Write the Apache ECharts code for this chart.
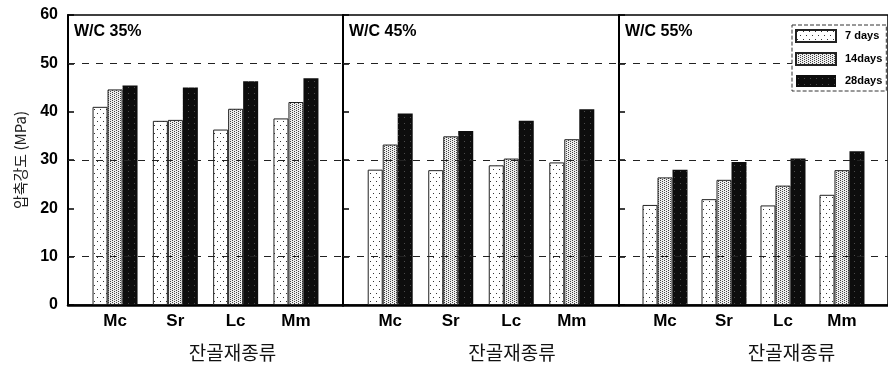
<!DOCTYPE html>
<html>
<head>
<meta charset="utf-8">
<script src="https://cdn.jsdelivr.net/npm/echarts@6/dist/echarts.min.js"></script>
<style>
html,body{margin:0;padding:0;background:#fff;}
#chart{width:888px;height:369px;}
</style>
</head>
<body>
<div id="chart"></div>
<script>
// ---- data ----
const categories = ['Mc', 'Sr', 'Lc', 'Mm'];
const panelTitles = ['W/C 35%', 'W/C 45%', 'W/C 55%'];
const seriesNames = ['7 days', '14days', '28days'];
const wc35_7d  = [41.0, 38.1, 36.3, 38.6];
const wc35_14d = [44.6, 38.3, 40.6, 42.0];
const wc35_28d = [45.4, 45.0, 46.3, 46.9];
const wc45_7d  = [28.0, 27.9, 28.9, 29.5];
const wc45_14d = [33.2, 34.9, 30.3, 34.3];
const wc45_28d = [39.6, 36.0, 38.1, 40.5];
const wc55_7d  = [20.7, 21.9, 20.6, 22.8];
const wc55_14d = [26.4, 25.9, 24.7, 27.9];
const wc55_28d = [28.0, 29.6, 30.3, 31.8];
const yMin = 0, yMax = 60, yStep = 10;
const dashedLevels = [10, 30, 50];
const yAxisName = '압축강도 (MPa)';
const xAxisName = '잔골재종류';

const panelData = [
  [wc35_7d, wc35_14d, wc35_28d],
  [wc45_7d, wc45_14d, wc45_28d],
  [wc55_7d, wc55_14d, wc55_28d]
];

// ---- patterns ----
function makePattern(w, h, bg, dotColor, dots) {
  const c = document.createElement('canvas');
  c.width = w; c.height = h;
  const ctx = c.getContext('2d');
  ctx.fillStyle = bg; ctx.fillRect(0, 0, w, h);
  ctx.fillStyle = dotColor;
  dots.forEach(d => ctx.fillRect(d[0], d[1], 1, 1));
  return { image: c, repeat: 'repeat' };
}
const fills = [
  makePattern(6, 8, '#ffffff', '#333333', [[1, 1], [4, 5]]),
  makePattern(4, 4, '#eeeeee', '#444444', [[0, 0], [2, 1], [0, 2], [2, 3]]),
  makePattern(6, 6, '#0d0d0d', '#4a4a4a', [[2, 3]])
];
const borders = [['#222', 1], ['#222', 1], ['#000', 0]];

const LATIN = '"Liberation Sans", Arial, sans-serif';
const KOR = '"Noto Sans CJK KR", "Noto Sans", sans-serif';

const gridLefts = [68, 343, 619];
const gridWidths = [275, 276, 276];
const namePads = [54, 62, 76];

const grids = [], xAxes = [], yAxes = [], series = [], titles = [];
panelTitles.forEach((t, p) => {
  grids.push({
    left: gridLefts[p], width: gridWidths[p], top: 15, bottom: 64,
    show: true, borderColor: '#000', borderWidth: 1.5, backgroundColor: 'transparent'
  });
  xAxes.push({
    type: 'value', gridIndex: p, min: 0.22, max: 4.78,
    splitLine: { show: false },
    axisLine: { show: true, onZero: false, lineStyle: { color: '#000', width: 2.5 } },
    axisTick: { show: true, inside: true, length: 5, customValues: [1, 2, 3, 4], lineStyle: { color: '#000', width: 2 } },
    axisLabel: {
      customValues: [1, 2, 3, 4],
      formatter: v => categories[Math.round(v) - 1] || '',
      margin: 8, color: '#000', fontFamily: LATIN, fontWeight: 'bold', fontSize: 17
    },
    name: xAxisName, nameLocation: 'middle', nameGap: 38,
    nameTextStyle: { fontFamily: KOR, fontSize: 19, color: '#111', padding: [0, 0, 0, namePads[p]] }
  });
  yAxes.push({
    type: 'value', gridIndex: p, min: yMin, max: yMax, interval: yStep,
    splitLine: { show: false },
    axisLine: { show: true, lineStyle: { color: '#000', width: 2 } },
    axisTick: { show: true, inside: true, length: 6, lineStyle: { color: '#000', width: 1.5 } },
    axisLabel: {
      show: p === 0, margin: 10, color: '#000', fontFamily: LATIN, fontWeight: 'bold', fontSize: 16
    },
    name: p === 0 ? yAxisName : '', nameLocation: 'middle', nameGap: 40, nameRotate: 90,
    nameTextStyle: { fontFamily: KOR, fontSize: 15, color: '#222' }
  });
  titles.push({
    text: t, left: gridLefts[p] + 6, top: 24, padding: 0,
    textStyle: { fontFamily: LATIN, fontWeight: 'bold', fontSize: 16, color: '#000' }
  });
  panelData[p].forEach((vals, s) => {
    series.push({
      type: 'bar', name: seriesNames[s], xAxisIndex: p, yAxisIndex: p,
      barWidth: 15, barGap: '0%', z: 2,
      itemStyle: { color: fills[s], borderColor: borders[s][0], borderWidth: borders[s][1] },
      data: vals.map((v, i) => [i + 1, v])
    });
  });
  series.push({
    type: 'line', xAxisIndex: p, yAxisIndex: p, data: [], z: 5, silent: true,
    markLine: {
      silent: true, symbol: ['none', 'none'], label: { show: false },
      lineStyle: { color: '#222', type: [7, 7], width: 1 },
      data: dashedLevels.map(v => ({ yAxis: v }))
    }
  });
});

const chart = echarts.init(document.getElementById('chart'), null, { renderer: 'canvas' });
chart.setOption({
  animation: false,
  backgroundColor: '#fff',
  title: titles,
  grid: grids,
  xAxis: xAxes,
  yAxis: yAxes,
  legend: {
    data: seriesNames, orient: 'vertical', left: 792, top: 25,
    itemWidth: 40, itemHeight: 12, itemGap: 9,
    padding: [4, 4, 4, 3], z: 20,
    backgroundColor: '#fff',
    borderColor: '#333', borderWidth: 1, borderType: 'dashed',
    icon: 'rect',
    textStyle: { fontFamily: LATIN, fontWeight: 'bold', fontSize: 11, color: '#000', padding: [0, 0, 0, 4] }
  },
  series: series
});
</script>
</body>
</html>
